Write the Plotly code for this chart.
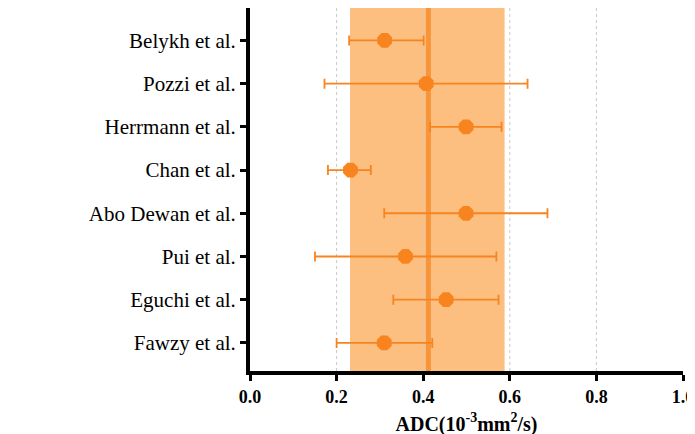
import plotly.graph_objects as go

studies = ["Belykh et al.", "Pozzi et al.", "Herrmann et al.", "Chan et al.",
           "Abo Dewan et al.", "Pui et al.", "Eguchi et al.", "Fawzy et al."]
adc_mean = [0.311, 0.407, 0.499, 0.232, 0.499, 0.359, 0.453, 0.310]
ci_low = [0.229, 0.172, 0.416, 0.180, 0.310, 0.150, 0.331, 0.200]
ci_high = [0.401, 0.641, 0.581, 0.279, 0.687, 0.569, 0.574, 0.421]
pooled = 0.412
pooled_low, pooled_high = 0.231, 0.588

orange = "#f7841e"
serif = "Liberation Serif, DejaVu Serif, serif"
ypos = list(range(len(studies), 0, -1))

fig = go.Figure()
fig.add_vrect(x0=pooled_low, x1=pooled_high, fillcolor="#fdbf80", opacity=1,
              line_width=0, layer="below")
for gx in [0.2, 0.4, 0.6, 0.8]:
    fig.add_vline(x=gx, line=dict(color="#c8c8c8", width=1, dash="dot"), layer="below")
fig.add_vline(x=pooled, line=dict(color=orange, width=5), opacity=0.7)

fig.add_trace(go.Scatter(
    x=adc_mean, y=ypos, mode="markers",
    marker=dict(color=orange, size=16, symbol="octagon"),
    error_x=dict(type="data", symmetric=False,
                 array=[h - m for h, m in zip(ci_high, adc_mean)],
                 arrayminus=[m - l for m, l in zip(adc_mean, ci_low)],
                 color=orange, thickness=1.8, width=5),
    showlegend=False))

fig.update_layout(
    width=695, height=434, plot_bgcolor="white", paper_bgcolor="white",
    margin=dict(l=242, r=20, t=0, b=71),
    font=dict(family=serif, size=20, color="black"),
    xaxis=dict(range=[0, 1.0], tickvals=[0, 0.2, 0.4, 0.6, 0.8, 1.0],
               ticktext=["<b>0.0</b>", "<b>0.2</b>", "<b>0.4</b>", "<b>0.6</b>", "<b>0.8</b>", "<b>1.0</b>"],
               tickfont=dict(family=serif, size=18),
               showgrid=False, zeroline=False, showline=True, linecolor="black",
               linewidth=4, ticks="outside", ticklen=6, tickwidth=3, tickcolor="black",
               title=dict(text="<b>ADC(10<sup>-3</sup>mm<sup>2</sup>/s)</b>",
                          font=dict(family=serif, size=20), standoff=12)),
    yaxis=dict(range=[0.35, 8.75], tickvals=ypos, ticktext=studies,
               tickfont=dict(family=serif, size=21),
               showgrid=False, zeroline=False, showline=True, linecolor="black",
               linewidth=4, ticks="outside", ticklen=6, tickwidth=3, tickcolor="black"),
)

fig.write_html("out.html")
